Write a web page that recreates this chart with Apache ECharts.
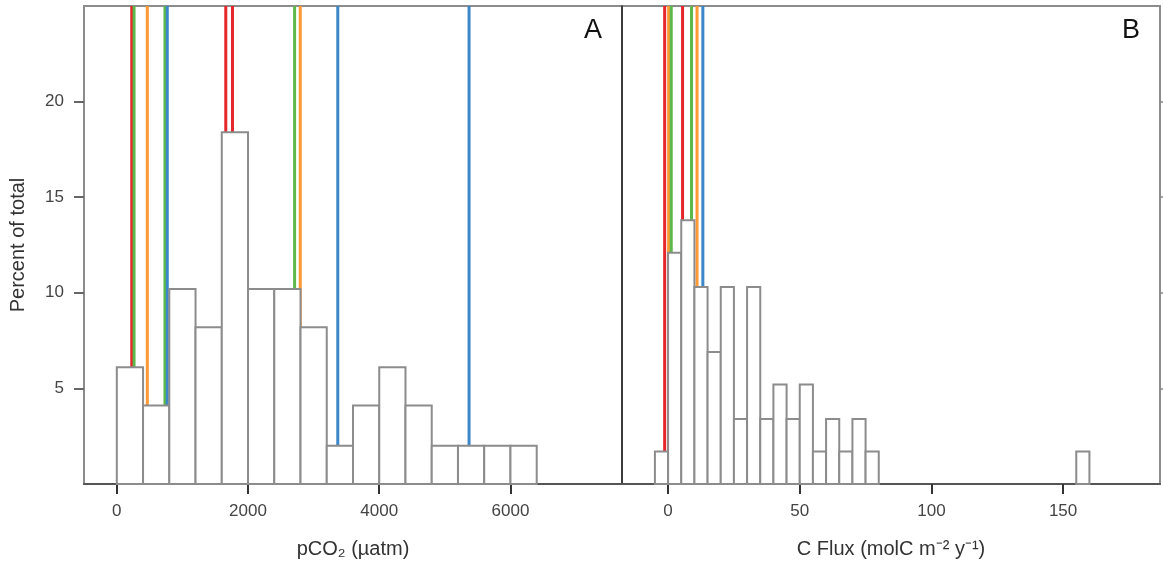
<!DOCTYPE html>
<html>
<head>
<meta charset="utf-8">
<script src="https://cdn.jsdelivr.net/npm/echarts@6/dist/echarts.min.js"></script>
<style>html,body{margin:0;padding:0;background:#fff;}#c{width:1163px;height:564px;}</style>
</head>
<body>
<div id="c"></div>
<script>
// ---- Panel A: pCO2 histogram ----
const binStartsA = [0, 400, 800, 1200, 1600, 2000, 2400, 2800, 3200, 3600, 4000, 4400, 4800, 5200, 5600, 6000];
const binWidthA = 400;
const pctA = [6.1, 4.1, 10.2, 8.2, 18.4, 10.2, 10.2, 8.2, 2.0, 4.1, 6.1, 4.1, 2.0, 2.0, 2.0, 2.0];
const linesA = [228, 263, 465, 734, 769, 1661, 1763, 2710, 2796, 3368, 5369];
const lineColorsA = ['red', 'green', 'orange', 'green', 'blue', 'red', 'red', 'green', 'orange', 'blue', 'blue'];
const ticksA = [0, 2000, 4000, 6000];

// ---- Panel B: C flux histogram ----
const binStartsB = [-5, 0, 5, 10, 15, 20, 25, 30, 35, 40, 45, 50, 55, 60, 65, 70, 75, 155];
const binWidthB = 5;
const pctB = [1.7, 12.1, 13.8, 10.3, 6.9, 10.3, 3.4, 10.3, 3.4, 5.2, 3.4, 5.2, 1.7, 3.4, 1.7, 3.4, 1.7, 1.7];
const linesB = [-1.3, 0.2, 1.2, 5.5, 8.9, 11.0, 13.2];
const lineColorsB = ['red', 'orange', 'green', 'red', 'green', 'orange', 'blue'];
const ticksB = [0, 50, 100, 150];

const yTicks = [5, 10, 15, 20];

const palette = { red: '#e5262b', green: '#5cb84a', orange: '#ff9933', blue: '#3b87c7' };
const FONT = 'Liberation Sans, Arial, sans-serif';

const chart = echarts.init(document.getElementById('c'), null, { renderer: 'canvas' });

function barRender(params, api) {
  const x0 = api.value(0), x1 = api.value(1), h = api.value(2);
  const p0 = api.coord([x0, 0]);
  const p1 = api.coord([x1, h]);
  return {
    type: 'rect',
    shape: { x: p0[0], y: p1[1], width: p1[0] - p0[0], height: p0[1] - p1[1] },
    style: { fill: '#ffffff', stroke: '#8c8c8c', lineWidth: 2 }
  };
}
function vlineRender(colors) {
  return function (params, api) {
    const x = api.value(0);
    const p0 = api.coord([x, 0]);
    const p1 = api.coord([x, 25]);
    return {
      type: 'line',
      shape: { x1: p0[0], y1: p0[1], x2: p1[0], y2: p1[1] },
      style: { stroke: palette[colors[params.dataIndex]], lineWidth: 3 }
    };
  };
}

const barDataA = binStartsA.map((s, i) => [s, s + binWidthA, pctA[i]]);
const barDataB = binStartsB.map((s, i) => [s, s + binWidthB, pctB[i]]);

const xAxisCommon = (gi, min, max, ticks, name) => ({
  type: 'value', gridIndex: gi, min: min, max: max, position: 'bottom',
  axisLine: { show: true, onZero: false, lineStyle: { color: '#555', width: 2 } },
  axisTick: { show: true, customValues: ticks, length: 10, inside: false, lineStyle: { color: '#333', width: 2 } },
  axisLabel: { customValues: ticks, fontSize: 17, color: '#444', margin: 19, fontFamily: FONT, formatter: v => String(v) },
  splitLine: { show: false },
  name: name, nameLocation: 'middle', nameGap: 55,
  nameTextStyle: { fontSize: 20, color: '#333', fontFamily: FONT }
});

const option = {
  animation: false,
  backgroundColor: '#fff',
  grid: [
    { left: 84, top: 6, width: 538, height: 479, show: true, borderColor: '#8c8c8c', borderWidth: 2, backgroundColor: 'transparent' },
    { left: 622, top: 6, width: 538, height: 479, show: true, borderColor: '#8c8c8c', borderWidth: 2, backgroundColor: 'transparent' }
  ],
  xAxis: [
    xAxisCommon(0, -500, 7700, ticksA, 'pCO\u2082 (\u00b5atm)'),
    xAxisCommon(1, -17.5, 186.8, ticksB, 'C Flux (molC m\u207b\u00b2 y\u207b\u00b9)')
  ],
  yAxis: [
    {
      type: 'value', gridIndex: 0, min: 0, max: 25, position: 'left',
      axisLine: { show: true, onZero: false, lineStyle: { color: '#8c8c8c', width: 2 } },
      axisTick: { show: true, customValues: yTicks, length: 10, lineStyle: { color: '#666', width: 2 } },
      axisLabel: { customValues: yTicks, fontSize: 17, color: '#444', margin: 20, fontFamily: FONT },
      splitLine: { show: false },
      name: 'Percent of total', nameLocation: 'middle', nameGap: 56, nameRotate: 90,
      nameTextStyle: { fontSize: 20, color: '#333', fontFamily: FONT }
    },
    {
      type: 'value', gridIndex: 1, min: 0, max: 25, position: 'left',
      axisLine: { show: true, onZero: false, lineStyle: { color: '#222', width: 1.5 } },
      axisTick: { show: false }, axisLabel: { show: false }, splitLine: { show: false }
    },
    {
      type: 'value', gridIndex: 1, min: 0, max: 25, position: 'right',
      axisLine: { show: true, onZero: false, lineStyle: { color: '#8c8c8c', width: 2 } },
      axisTick: { show: true, customValues: yTicks, length: 6, lineStyle: { color: '#888', width: 1.5 } },
      axisLabel: { show: false }, splitLine: { show: false }
    }
  ],
  series: [
    { type: 'custom', xAxisIndex: 0, yAxisIndex: 0, z: 2, renderItem: vlineRender(lineColorsA), data: linesA.map(v => [v]), clip: true },
    { type: 'custom', xAxisIndex: 0, yAxisIndex: 0, z: 3, renderItem: barRender, data: barDataA },
    { type: 'custom', xAxisIndex: 1, yAxisIndex: 1, z: 2, renderItem: vlineRender(lineColorsB), data: linesB.map(v => [v]), clip: true },
    { type: 'custom', xAxisIndex: 1, yAxisIndex: 1, z: 3, renderItem: barRender, data: barDataB }
  ],
  graphic: [
    { type: 'text', left: 584, top: 17, style: { text: 'A', fontSize: 27, fill: '#111', fontFamily: FONT } },
    { type: 'text', left: 1122, top: 17, style: { text: 'B', fontSize: 27, fill: '#111', fontFamily: FONT } }
  ]
};
chart.setOption(option);
</script>
</body>
</html>
